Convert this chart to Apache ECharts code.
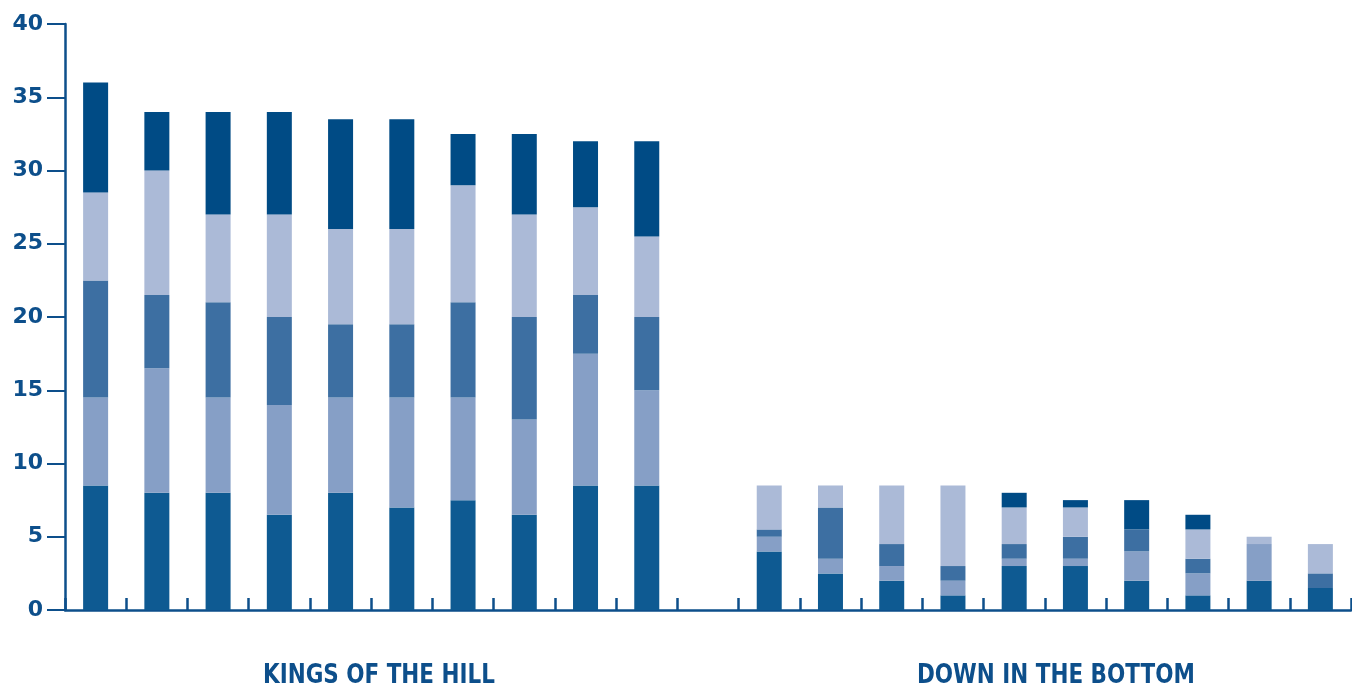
<!DOCTYPE html>
<html>
<head>
<meta charset="utf-8">
<script src="https://cdn.jsdelivr.net/npm/echarts@6/dist/echarts.min.js"></script>
<style>
html,body{margin:0;padding:0;background:#fff;}
#chart{width:1352px;height:689px;}
</style>
</head>
<body>
<div id="chart"></div>
<script>
var categories = ['K1','K2','K3','K4','K5','K6','K7','K8','K9','K10','','D1','D2','D3','D4','D5','D6','D7','D8','D9','D10'];
var seriesA = [8.5, 8, 8, 6.5, 8, 7, 7.5, 6.5, 8.5, 8.5, null, 4, 2.5, 2, 1, 3, 3, 2, 1, 2, 1.5];
var seriesB = [6, 8.5, 6.5, 7.5, 6.5, 7.5, 7, 6.5, 9, 6.5, null, 1, 1, 1, 1, 0.5, 0.5, 2, 1.5, 2.5, 0];
var seriesC = [8, 5, 6.5, 6, 5, 5, 6.5, 7, 4, 5, null, 0.5, 3.5, 1.5, 1, 1, 1.5, 1.5, 1, 0, 1];
var seriesD = [6, 8.5, 6, 7, 6.5, 6.5, 8, 7, 6, 5.5, null, 3, 1.5, 4, 5.5, 2.5, 2, 0, 2, 0.5, 2];
var seriesE = [7.5, 4, 7, 7, 7.5, 7.5, 3.5, 5.5, 4.5, 6.5, null, 0, 0, 0, 0, 1, 0.5, 2, 1, 0, 0];
var yTicks = [0, 5, 10, 15, 20, 25, 30, 35, 40];
var groupLabels = ['KINGS OF THE HILL', 'DOWN IN THE BOTTOM'];

var colors = ['#0e5a92', '#869fc6', '#3d6fa2', '#abbad7', '#004b85'];
var axisColor = '#0d4f8b';

var chart = echarts.init(document.getElementById('chart'));
function mk(name, data, i) {
  return {
    name: name, type: 'bar', stack: 'total', data: data, barWidth: 25,
    itemStyle: { color: colors[i] }, emphasis: { disabled: true }
  };
}
var labelFont = 'bold 27px "Liberation Sans Narrow", "DejaVu Sans Condensed", sans-serif';
chart.setOption({
  animation: false,
  grid: { left: 65, right: 1, top: 24, bottom: 79, containLabel: false },
  xAxis: {
    type: 'category', data: categories, boundaryGap: true,
    axisLine: { lineStyle: { color: axisColor, width: 2.5 } },
    axisTick: { show: true, inside: true, length: 12, lineStyle: { color: axisColor, width: 2.5 } },
    axisLabel: { show: false }
  },
  yAxis: {
    type: 'value', min: yTicks[0], max: yTicks[yTicks.length - 1], interval: 5,
    axisLine: { show: true, lineStyle: { color: axisColor, width: 2.5 } },
    axisTick: { show: true, length: 18, lineStyle: { color: axisColor, width: 2 } },
    splitLine: { show: false },
    axisLabel: { margin: 22, color: axisColor, fontFamily: 'DejaVu Sans', fontWeight: 'bold', fontSize: 22 }
  },
  series: [
    mk('A', seriesA, 0), mk('B', seriesB, 1), mk('C', seriesC, 2), mk('D', seriesD, 3), mk('E', seriesE, 4)
  ],
  graphic: [
    { type: 'text', x: 263, y: 662, scaleX: 0.885, style: { text: groupLabels[0], fill: axisColor, font: labelFont } },
    { type: 'text', x: 917, y: 662, scaleX: 0.885, style: { text: groupLabels[1], fill: axisColor, font: labelFont } }
  ]
});
</script>
</body>
</html>
